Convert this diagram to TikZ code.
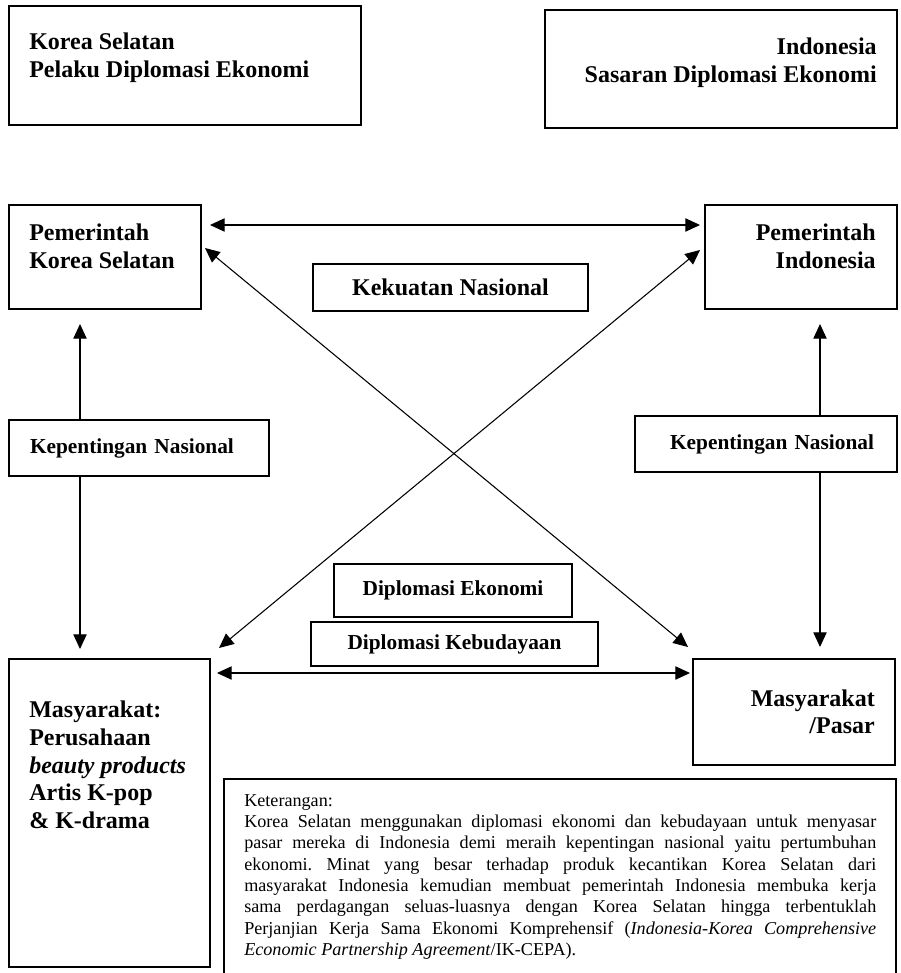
\documentclass[tikz,border=0pt]{standalone}
\usepackage{fontspec}
\setmainfont{Liberation Serif}
\usetikzlibrary{arrows.meta}
\hyphenpenalty=10000
\exhyphenpenalty=10000
\frenchspacing

\tikzset{
  box/.style={draw, line width=1.5pt, anchor=north west, inner sep=0pt},
  head/.style={font=\bfseries\fontsize{18}{21}\selectfont, inner sep=0pt},
  mid/.style={font=\bfseries\fontsize{16}{19}\selectfont},
  link/.style={line width=0.8pt, {Triangle[length=11pt,width=10pt]}-{Triangle[length=11pt,width=10pt]}},
  onelink/.style={line width=0.8pt, -{Triangle[length=11pt,width=10pt]}}
}

\begin{document}
\begin{tikzpicture}[x=0.75pt,y=-0.75pt]
\useasboundingbox (0,0) rectangle (900,973);
% actors
\node[box, minimum width=264pt, minimum height=89.25pt] (pelaku) at (8,5) {};
\node[head, anchor=north west, align=left] (pelakutxt) at ([shift={(21,28)}]pelaku.north west) {Korea Selatan\\Pelaku Diplomasi Ekonomi};
\node[box, minimum width=264pt, minimum height=88.5pt] (sasaran) at (544,9) {};
\node[head, anchor=north east, align=right] (sasarantxt) at ([shift={(-21,29)}]sasaran.north east) {Indonesia\\Sasaran Diplomasi Ekonomi};
% governments
\node[box, minimum width=144pt, minimum height=78pt] (pemks) at (8,204) {};
\node[head, anchor=north west, align=left] (pemkstxt) at ([shift={(21,20)}]pemks.north west) {Pemerintah\\Korea Selatan};
\node[box, minimum width=144pt, minimum height=78pt] (pemid) at (704,204) {};
\node[head, anchor=north east, align=right] (pemidtxt) at ([shift={(-22,20)}]pemid.north east) {Pemerintah\\Indonesia};
\node[box, head, minimum width=206.25pt, minimum height=35.25pt] (kekuatan) at (312,263) {Kekuatan Nasional};
% national interest
\node[box, mid, minimum width=195pt, minimum height=42pt, inner xsep=15.75pt, text width=163.5pt, align=left] (kepks) at (8,419) {Kepentingan Nasional};
\node[box, mid, minimum width=196.5pt, minimum height=42pt, inner xsep=17.25pt, text width=162pt, align=right] (kepid) at (634,415) {Kepentingan Nasional};
% diplomacy
\node[box, mid, minimum width=178.5pt, minimum height=39.75pt] (dipeko) at (333,563) {Diplomasi Ekonomi};
\node[box, mid, minimum width=215.25pt, minimum height=33pt] (dipbud) at (310,621) {Diplomasi Kebudayaan};
% society
\node[box, minimum width=150.75pt, minimum height=231pt] (masks) at (8,658) {};
\node[head, anchor=north west, align=left, font=\bfseries\fontsize{18}{20.7}\selectfont] (maskstxt) at ([shift={(21,43)}]masks.north west) {Masyarakat:\\Perusahaan\\\textit{beauty products}\\Artis K-pop\\\& K-drama};
\node[box, minimum width=151.5pt, minimum height=79.5pt] (pasar) at (692,658) {};
\node[head, anchor=north east, align=right, font=\bfseries\fontsize{18}{20.3}\selectfont] (pasartxt) at ([shift={(-21,32)}]pasar.north east) {Masyarakat\\/Pasar};
% note
\node[box, minimum width=504pt, minimum height=159pt] (ket) at (223,778) {};
\node[anchor=north west, inner sep=0pt, text width=474pt, align=justify, font=\fontsize{13.6}{16}\selectfont] (kettxt) at ([shift={(21,16)}]ket.north west) {Keterangan:\\
Korea Selatan menggunakan diplomasi ekonomi dan kebudayaan untuk menyasar\linebreak
pasar mereka di Indonesia demi meraih kepentingan nasional yaitu pertumbuhan\linebreak
ekonomi. Minat yang besar terhadap produk kecantikan Korea Selatan dari\linebreak
masyarakat Indonesia kemudian membuat pemerintah Indonesia membuka kerja\linebreak
sama perdagangan seluas-luasnya dengan Korea Selatan hingga terbentuklah\linebreak
Perjanjian Kerja Sama Ekonomi Komprehensif (\textit{Indonesia-Korea Comprehensive}\linebreak
\textit{Economic Partnership Agreement}/IK-CEPA).};
% connectors
\draw[link] ([shift={(8,21)}]pemks.north east) -- ([shift={(-4,21)}]pemid.north west);
\draw[link] ([shift={(3,44)}]pemks.north east) -- ([shift={(-4,-11)}]pasar.north west);
\draw[link] ([shift={(-4,46)}]pemid.north west) -- ([shift={(8,-10)}]masks.north east);
\draw[link] ([shift={(6,15)}]masks.north east) -- ([shift={(-2,15)}]pasar.north west);
\draw[onelink] ([shift={(72,0)}]kepks.north west) -- ([shift={(72,14)}]pemks.south west);
\draw[onelink] ([shift={(72,0)}]kepks.south west) -- ([shift={(72,-9)}]masks.north west);
\draw[onelink] ([shift={(186,0)}]kepid.north west) -- ([shift={(116,14)}]pemid.south west);
\draw[onelink] ([shift={(186,0)}]kepid.south west) -- ([shift={(128,-11)}]pasar.north west);
\end{tikzpicture}
\end{document}
